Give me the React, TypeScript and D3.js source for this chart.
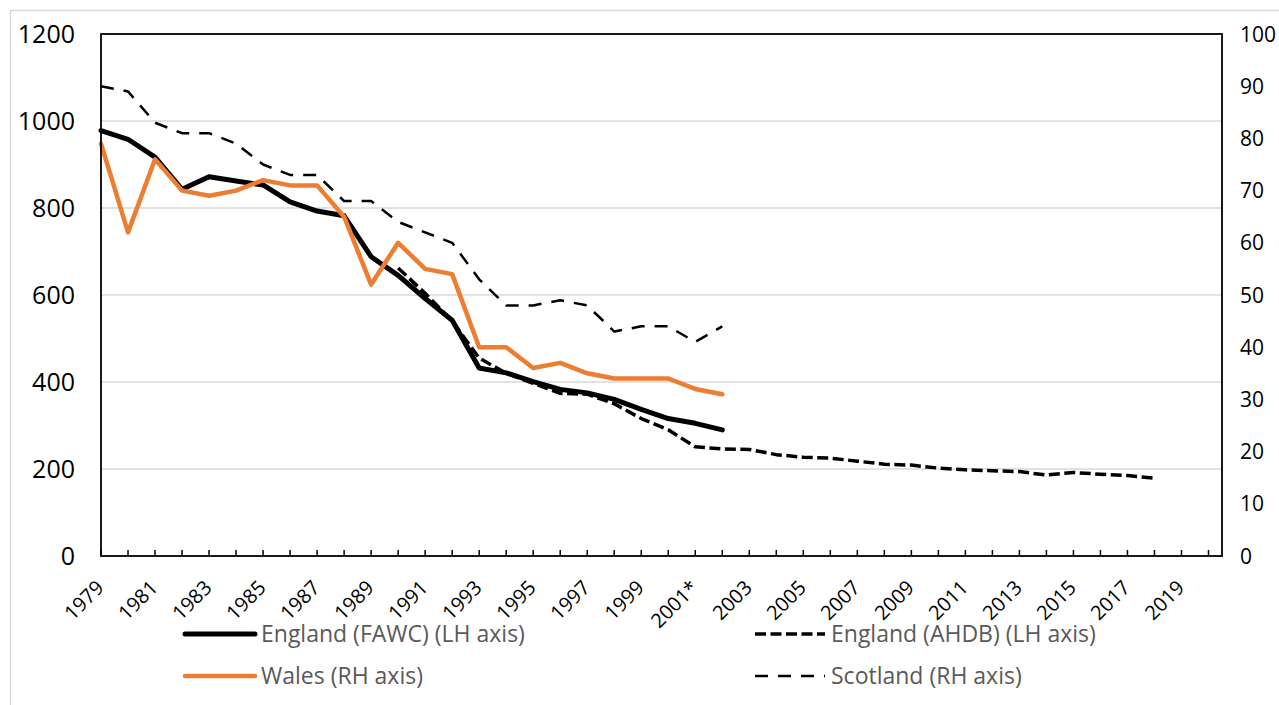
import * as d3 from "d3";

// years on the category axis
const years = d3.range(1979, 2021);

// England (FAWC), LH axis, 1979-2002
const englandFawc = [
    978, 958, 917, 843, 872, 862, 853, 814, 793, 782, 688, 645, 592, 542, 432,
    421, 401, 383, 375, 360, 337, 316, 305, 290,
];

// England (AHDB), LH axis, 1990-2018
const ahdbStart = 1990;
const englandAhdb = [
    662, 604, 540, 455, 420, 397, 374, 372, 350, 316, 290, 251, 246, 245, 233,
    227, 225, 218, 211, 209, 202, 198, 196, 194, 186, 192, 188, 185, 179,
];

// Wales, RH axis, 1979-2002
const wales = [
    79, 62, 76, 70, 69, 70, 72, 71, 71, 65, 52, 60, 55, 54, 40, 40, 36, 37, 35,
    34, 34, 34, 32, 31,
];

// Scotland, RH axis, 1979-2002
const scotland = [
    90, 89, 83, 81, 81, 79, 75, 73, 73, 68, 68, 64, 62, 60, 53, 48, 48, 49, 48,
    43, 44, 44, 41, 44,
];

const leftTicks = [0, 200, 400, 600, 800, 1000, 1200];
const rightTicks = [0, 10, 20, 30, 40, 50, 60, 70, 80, 90, 100];
const xLabelYears = d3.range(1979, 2020, 2);
const xLabel = (y: number) => (y === 2001 ? "2001*" : String(y));

type Pt = { year: number; v: number };

const toPts = (vals: number[], start: number): Pt[] =>
    vals.map((v, i) => ({ year: start + i, v }));

const App = () => {
    const width = 1279;
    const height = 705;
    const plot = { left: 101, right: 1222, top: 34, bottom: 556 };
    const font = "'Open Sans', sans-serif";

    const x = d3
        .scaleLinear()
        .domain([1979, 2020.5])
        .range([plot.left, plot.right]);
    const yL = d3.scaleLinear().domain([0, 1200]).range([plot.bottom, plot.top]);
    const yR = d3.scaleLinear().domain([0, 100]).range([plot.bottom, plot.top]);

    const lineL = d3
        .line<Pt>()
        .x((d) => x(d.year))
        .y((d) => yL(d.v));
    const lineR = d3
        .line<Pt>()
        .x((d) => x(d.year))
        .y((d) => yR(d.v));

    const legendRows = [
        { x: 185, y: 634, label: "England (FAWC) (LH axis)", color: "#000", w: 5, dash: "none" },
        { x: 185, y: 676, label: "Wales (RH axis)", color: "#ED7D31", w: 4.5, dash: "none" },
        { x: 755, y: 634, label: "England (AHDB) (LH axis)", color: "#000", w: 3.5, dash: "11,4.5" },
        { x: 755, y: 676, label: "Scotland (RH axis)", color: "#000", w: 2.5, dash: "13,10" },
    ];

    return (
        <svg
            width={width}
            height={height}
            style={{ position: "absolute", left: 0, top: 0, background: "#fff" }}
        >
            <rect x={10.5} y={10.5} width={1290} height={720} fill="#fff" stroke="#d9d9d9" strokeWidth={1.5} />

            {/* gridlines */}
            {leftTicks.slice(1, -1).map((t) => (
                <line key={t} x1={plot.left} x2={plot.right} y1={yL(t)} y2={yL(t)} stroke="#d9d9d9" strokeWidth={1.5} />
            ))}

            {/* series */}
            <path
                d={lineR(toPts(scotland, 1979)) ?? ""}
                fill="none"
                stroke="#000"
                strokeWidth={2.5}
                strokeDasharray="13,10"
                strokeLinejoin="round"
            />
            <path
                d={lineL(toPts(englandFawc, 1979)) ?? ""}
                fill="none"
                stroke="#000"
                strokeWidth={5}
                strokeLinejoin="round"
                strokeLinecap="round"
            />
            <path
                d={lineL(toPts(englandAhdb, ahdbStart)) ?? ""}
                fill="none"
                stroke="#000"
                strokeWidth={3.5}
                strokeDasharray="11,4.5"
                strokeLinejoin="round"
            />
            <path
                d={lineR(toPts(wales, 1979)) ?? ""}
                fill="none"
                stroke="#ED7D31"
                strokeWidth={4.5}
                strokeLinejoin="round"
                strokeLinecap="round"
            />

            {/* plot frame */}
            <rect
                x={plot.left}
                y={plot.top}
                width={plot.right - plot.left}
                height={plot.bottom - plot.top}
                fill="none"
                stroke="#000"
                strokeWidth={1.8}
            />

            {/* x ticks */}
            {years.map((yr) => (
                <line key={yr} x1={x(yr)} x2={x(yr)} y1={plot.bottom} y2={plot.bottom - 6} stroke="#000" strokeWidth={1.5} />
            ))}

            {/* x labels */}
            {xLabelYears.map((yr) => (
                <text
                    key={yr}
                    transform={`translate(${x(yr) + 4},${plot.bottom + 33}) rotate(-45)`}
                    textAnchor="end"
                    fontFamily={font}
                    fontSize={20}
                    fill="#000"
                >
                    {xLabel(yr)}
                </text>
            ))}

            {/* left axis labels */}
            {leftTicks.map((t) => (
                <text
                    key={t}
                    x={75}
                    y={yL(t)}
                    dy="0.36em"
                    textAnchor="end"
                    fontFamily={font}
                    fontSize={25}
                    fill="#000"
                >
                    {t}
                </text>
            ))}

            {/* right axis labels */}
            {rightTicks.map((t) => (
                <text
                    key={t}
                    x={1240}
                    y={yR(t)}
                    dy="0.36em"
                    textAnchor="start"
                    fontFamily={font}
                    fontSize={21}
                    fill="#000"
                >
                    {t}
                </text>
            ))}

            {/* legend */}
            {legendRows.map((r) => (
                <g key={r.label}>
                    <line
                        x1={r.x}
                        x2={r.x + 70}
                        y1={r.y}
                        y2={r.y}
                        stroke={r.color}
                        strokeWidth={r.w}
                        strokeDasharray={r.dash}
                        strokeLinecap={r.dash === "none" ? "round" : "butt"}
                    />
                    <text x={r.x + 76} y={r.y} dy="0.35em" fontFamily={font} fontSize={23} fill="#595959">
                        {r.label}
                    </text>
                </g>
            ))}
        </svg>
    );
};

export default App;
